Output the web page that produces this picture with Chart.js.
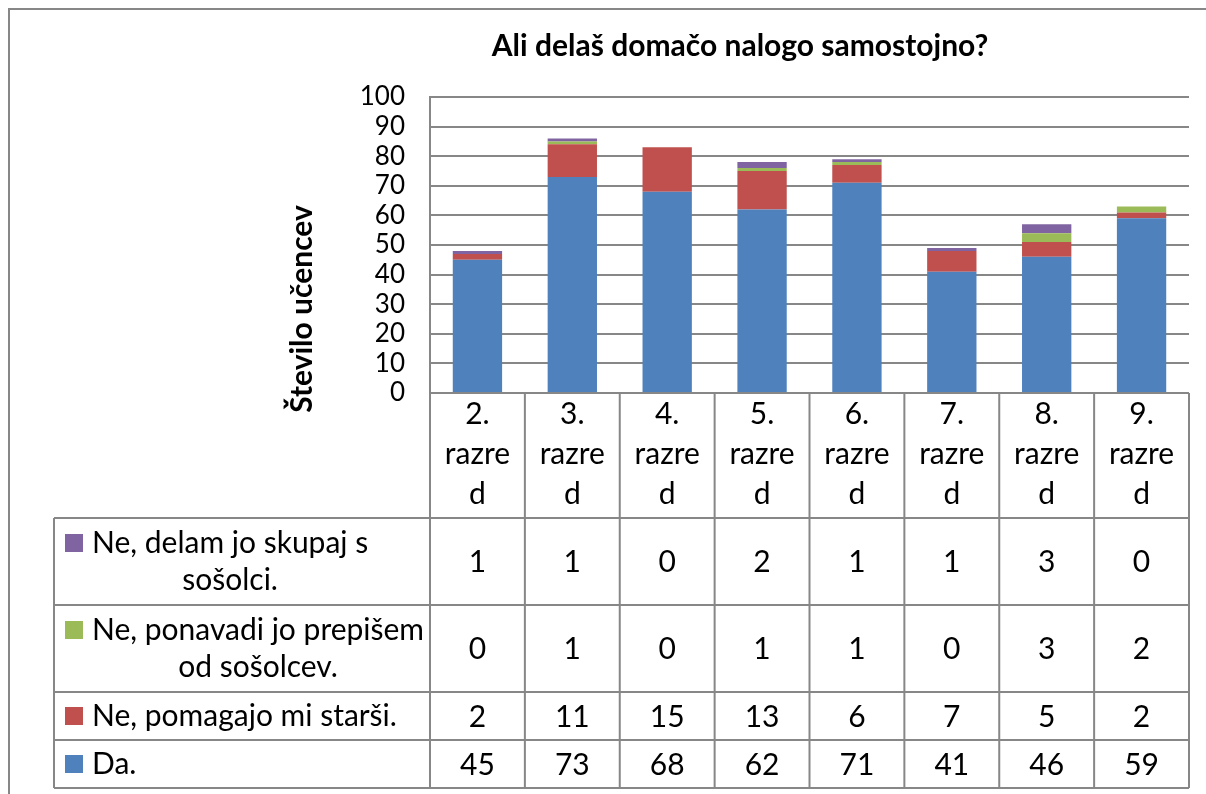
<!DOCTYPE html>
<html>
<head>
<meta charset="utf-8">
<script src="https://cdn.jsdelivr.net/npm/chart.js@4.4.0/dist/chart.umd.min.js"></script>
<style>
html, body { margin: 0; padding: 0; background: #fff; overflow: hidden; }
#wrap { position: absolute; left: 0; top: 0; width: 1206px; height: 794px; }
</style>
</head>
<body>
<div id="wrap"><canvas id="myChart" width="1206" height="794"></canvas></div>
<script>
// podatki
const naslov = 'Ali delaš domačo nalogo samostojno?';
const osY = 'Število učencev';
const razredi = ['2. razred', '3. razred', '4. razred', '5. razred', '6. razred', '7. razred', '8. razred', '9. razred'];
const da = [45, 73, 68, 62, 71, 41, 46, 59];
const starsi = [2, 11, 15, 13, 6, 7, 5, 2];
const prepisem = [0, 1, 0, 1, 1, 0, 3, 2];
const skupaj = [1, 1, 0, 2, 1, 1, 3, 0];
const serije = ['Da.', 'Ne, pomagajo mi starši.', 'Ne, ponavadi jo prepišem od sošolcev.', 'Ne, delam jo skupaj s sošolci.'];
// kako Excel prelomi besedilo v tabeli
const serijeVrstice = [['Da.'], ['Ne, pomagajo mi starši.'], ['Ne, ponavadi jo prepišem', 'od sošolcev.'], ['Ne, delam jo skupaj s', 'sošolci.']];
const barve = ['#4F81BD', '#C0504D', '#9BBB59', '#8064A2'];

const FONT = 'Lato';
const SIVA = '#878787';

// "2. razred" -> ["2.", "razre", "d"] (ozek stolpec)
function prelomi(r) {
    const [st, beseda] = r.split(' ');
    return [st, beseda.slice(0, 5), beseda.slice(5)];
}

const tabela = {
    id: 'tabela',
    afterDraw(chart) {
        const ctx = chart.ctx;
        const ca = chart.chartArea;
        const x = chart.scales.x;
        const w = (ca.right - ca.left) / razredi.length;
        const levo = 54;
        const meje = [518, 605, 692, 740, 788]; // spodnji robovi glave in vrstic

        ctx.save();
        // okvir grafa
        ctx.strokeStyle = SIVA;
        ctx.lineWidth = 2;
        ctx.beginPath();
        ctx.moveTo(9, 794); ctx.lineTo(9, 9); ctx.lineTo(1206, 9);
        ctx.stroke();

        // naslov
        ctx.fillStyle = '#000';
        ctx.font = 'bold 30px ' + FONT;
        ctx.textAlign = 'center';
        ctx.textBaseline = 'middle';
        ctx.fillText(naslov, 740, 46);

        // naslov osi y
        ctx.save();
        ctx.translate(302, 309);
        ctx.rotate(-Math.PI / 2);
        ctx.fillText(osY, 0, 0);
        ctx.restore();

        // mreža tabele
        ctx.beginPath();
        for (let i = 0; i <= razredi.length; i++) {
            const xb = ca.left + i * w;
            ctx.moveTo(xb, ca.bottom);
            ctx.lineTo(xb, meje[meje.length - 1]);
        }
        ctx.moveTo(levo, meje[0]);
        ctx.lineTo(levo, meje[meje.length - 1]);
        meje.forEach(m => {
            ctx.moveTo(levo, m);
            ctx.lineTo(ca.right, m);
        });
        ctx.stroke();

        // vrstice: zgoraj zadnja serija
        const ds = chart.data.datasets;
        ctx.font = '30px ' + FONT;
        for (let r = 0; r < ds.length; r++) {
            const idx = ds.length - 1 - r;
            const y0 = meje[r], y1 = meje[r + 1];
            const sredina = (y0 + y1) / 2;
            const vrstice = serijeVrstice[idx];
            const razmik = 37;
            const prva = sredina - (vrstice.length - 1) * razmik / 2;

            // ključ legende
            ctx.fillStyle = ds[idx].backgroundColor;
            ctx.fillRect(65, prva - 9, 18, 18);

            ctx.fillStyle = '#000';
            const sirina = Math.max(...vrstice.map(v => ctx.measureText(v).width));
            ctx.textAlign = 'center';
            vrstice.forEach((v, k) => {
                ctx.fillText(v, 92 + sirina / 2, prva + k * razmik);
            });

            // vrednosti
            ds[idx].data.forEach((val, i) => {
                ctx.fillText(String(val), x.getPixelForValue(i), sredina + 1);
            });
        }
        ctx.restore();
    }
};

function graf() {
    const podatki = [da, starsi, prepisem, skupaj];
    const data = {
        labels: razredi,
        datasets: podatki.map((d, i) => ({
            label: serije[i],
            data: d,
            backgroundColor: barve[i],
            borderWidth: 0,
            categoryPercentage: 1,
            barPercentage: 0.52
        }))
    };

    const config = {
        type: 'bar',
        data: data,
        options: {
            responsive: false,
            animation: false,
            layout: { padding: { top: 97, right: 17, bottom: 276, left: 0 } },
            plugins: {
                legend: { display: false },
                title: { display: false },
                tooltip: { enabled: false }
            },
            scales: {
                x: {
                    stacked: true,
                    grid: { display: false, drawTicks: false },
                    border: { display: false },
                    ticks: {
                        autoSkip: false,
                        maxRotation: 0,
                        padding: 2,
                        color: '#000',
                        font: { family: FONT, size: 30, lineHeight: 1.32 },
                        callback: (v, i) => prelomi(razredi[i])
                    },
                    afterFit: s => { s.height = 125; }
                },
                y: {
                    stacked: true,
                    min: 0,
                    max: 100,
                    ticks: {
                        stepSize: 10,
                        autoSkip: false,
                        padding: 25,
                        color: '#000',
                        font: { family: FONT, size: 26 }
                    },
                    grid: { color: SIVA, lineWidth: 2, drawTicks: false },
                    border: { color: SIVA, width: 2 },
                    afterFit: s => { s.width = 430; }
                }
            }
        },
        plugins: [tabela]
    };

    const ctx = document.getElementById('myChart').getContext('2d');
    new Chart(ctx, config);
}

document.fonts.load('30px ' + FONT).then(graf, graf);
</script>
</body>
</html>
